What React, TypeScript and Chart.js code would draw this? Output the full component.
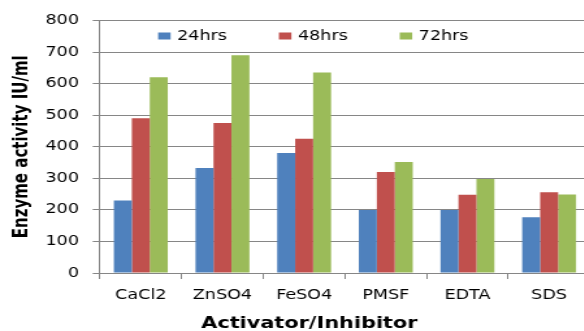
import React, { useEffect, useRef } from "react";
import { Chart, registerables } from "chart.js";

Chart.register(...registerables);

// Activators / inhibitors on the x axis
const categories = ["CaCl2", "ZnSO4", "FeSO4", "PMSF", "EDTA", "SDS"];

// Enzyme activity (IU/ml) after each incubation time
const activity24 = [230, 333, 380, 200, 200, 177];
const activity48 = [490, 475, 425, 320, 248, 256];
const activity72 = [620, 690, 635, 352, 298, 249];

const seriesLabels = ["24hrs", "48hrs", "72hrs"];
const seriesColors = ["#4F81BD", "#C0504D", "#9BBB59"];

// y axis range and step
const yMin = 0;
const yMax = 800;
const yStep = 100;

const yTitle = "Enzyme activity IU/ml";
const xTitle = "Activator/Inhibitor";

// The drawing is laid out narrow and widened horizontally, which gives the
// broad letter shapes of the original office-style chart.
const STRETCH = 1.3;
const CANVAS_W = 476;
const CANVAS_H = 331;
const FONT = "'DejaVu Sans', sans-serif";
const GRID = "#868686";

// Legend inside the top of the plot and the x-axis title, both centred on the canvas.
const overlayPlugin = {
  id: "overlayText",
  afterDraw(chart: any) {
    const { ctx, chartArea } = chart;
    ctx.save();
    ctx.font = `13.5px ${FONT}`;
    const box = 9.6;
    const gap = 5;
    const spacing = 40;
    const items = chart.data.datasets.map((ds: any) => ({
      label: ds.label as string,
      color: ds.backgroundColor as string,
      w: ctx.measureText(ds.label).width,
    }));
    const total =
      items.reduce((s: number, it: any) => s + box + gap + it.w, 0) +
      spacing * (items.length - 1);
    let x = chart.width / 2 - total / 2 + 3;
    const y = chartArea.top + 15.5;
    ctx.textBaseline = "middle";
    ctx.textAlign = "left";
    for (const it of items) {
      ctx.fillStyle = it.color;
      ctx.fillRect(x, y - 3.5, box, 7);
      ctx.fillStyle = "#000";
      ctx.fillText(it.label, x + box + gap, y);
      x += box + gap + it.w + spacing;
    }

    ctx.font = `bold 16px ${FONT}`;
    ctx.textAlign = "center";
    ctx.textBaseline = "alphabetic";
    ctx.fillStyle = "#000";
    ctx.fillText(xTitle, chart.width / 2, chart.height - 3);
    ctx.restore();
  },
};

export default function App() {
  const canvasRef = useRef<HTMLCanvasElement | null>(null);

  useEffect(() => {
    if (!canvasRef.current) return;
    const datasetValues = [activity24, activity48, activity72];
    const chart = new Chart(canvasRef.current, {
      type: "bar",
      data: {
        labels: categories,
        datasets: datasetValues.map((values, i) => ({
          label: seriesLabels[i],
          data: values,
          backgroundColor: seriesColors[i],
          borderWidth: 0,
          barPercentage: 1,
          categoryPercentage: 0.66,
        })),
      },
      options: {
        animation: false,
        responsive: false,
        maintainAspectRatio: false,
        layout: { padding: { left: 0, top: 20.5, right: 22.2, bottom: 28 } },
        plugins: {
          legend: { display: false },
          tooltip: { enabled: false },
        },
        scales: {
          x: {
            offset: true,
            afterFit: (scale: any) => {
              scale.height = 30;
            },
            grid: {
              offset: true,
              drawOnChartArea: false,
              drawTicks: true,
              tickLength: 6,
              color: GRID,
            },
            border: { display: true, color: GRID },
            ticks: {
              color: "#000",
              padding: 8.5,
              font: { family: FONT, size: 13.5 },
              maxRotation: 0,
            },
          },
          y: {
            min: yMin,
            max: yMax,
            afterFit: (scale: any) => {
              scale.width = 76.9;
            },
            grid: { color: GRID, tickLength: 5.6 },
            border: { display: true, color: GRID },
            ticks: {
              stepSize: yStep,
              color: "#000",
              padding: 10.5,
              font: { family: FONT, size: 13.5 },
            },
            title: {
              display: true,
              text: yTitle,
              color: "#000",
              font: { family: FONT, size: 15, weight: "bold" },
              padding: { top: 8.3, bottom: 8.7 },
            },
          },
        },
      },
      plugins: [overlayPlugin],
    });
    return () => chart.destroy();
  }, []);

  return (
    <div
      style={{
        position: "fixed",
        left: 0,
        top: 0,
        width: 584,
        height: 331,
        overflow: "hidden",
        background: "#fff",
      }}
    >
      <div
        style={{
          width: CANVAS_W,
          height: CANVAS_H,
          transform: `scaleX(${STRETCH})`,
          transformOrigin: "0 0",
        }}
      >
        <canvas ref={canvasRef} width={CANVAS_W} height={CANVAS_H} />
      </div>
    </div>
  );
}
